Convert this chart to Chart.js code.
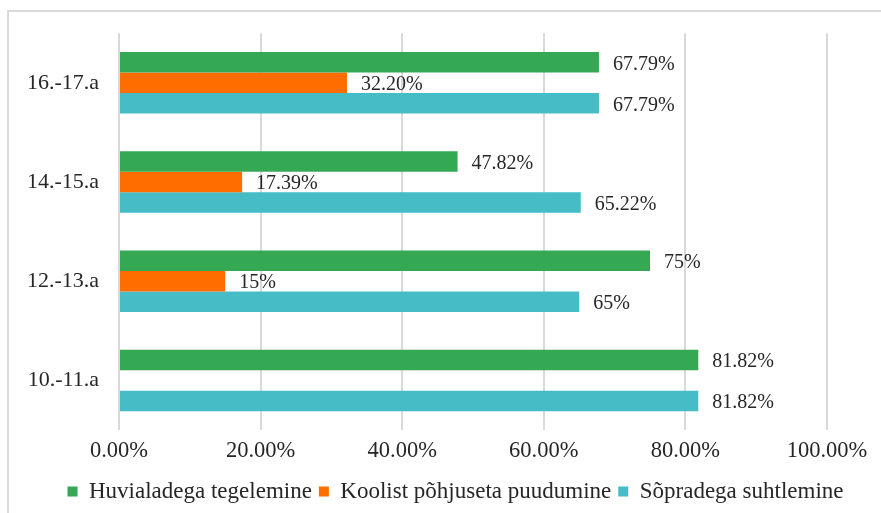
<!DOCTYPE html>
<html>
<head>
<meta charset="utf-8">
<script src="https://cdn.jsdelivr.net/npm/chart.js@4.4.0/dist/chart.umd.min.js"></script>
<style>
  html, body { margin: 0; padding: 0; background: #fff; }
  #box { width: 881px; height: 513px; }
</style>
</head>
<body>
<div id="box"><canvas id="myChart" width="881" height="513"></canvas></div>
<script>
// kategooriad ülevalt alla
const vanused = ['16.-17.a', '14.-15.a', '12.-13.a', '10.-11.a'];

// protsendid iga rühma kohta
const huvialad = [67.79, 47.82, 75, 81.82];
const puudumine = [32.20, 17.39, 15, null];
const sobrad = [67.79, 65.22, 65, 81.82];

const xTicks = [0, 20, 40, 60, 80, 100];

const serif = 'Liberation Serif';

function protsent(v) {
    return Number.isInteger(v) ? v + '%' : v.toFixed(2) + '%';
}

// raam ümber joonise
const raam = {
    id: 'raam',
    beforeDraw(chart) {
        const ctx = chart.ctx;
        ctx.save();
        ctx.fillStyle = '#fff';
        ctx.fillRect(0, 0, chart.width, chart.height);
        ctx.strokeStyle = '#d9d9d9';
        ctx.lineWidth = 2;
        ctx.strokeRect(8, 11, chart.width + 20, chart.height + 20);
        ctx.restore();
    }
};

// legend veidi paremale, nagu originaalis
const legendNihe = {
    id: 'legendNihe',
    afterLayout(chart) {
        chart.legend.left += 42;
        chart.legend.right += 42;
    }
};

// väärtused tulpade otsa
const sildid = {
    id: 'sildid',
    afterDatasetsDraw(chart) {
        const ctx = chart.ctx;
        ctx.save();
        ctx.font = '20px "' + serif + '"';
        ctx.fillStyle = '#262626';
        ctx.textBaseline = 'middle';
        ctx.textAlign = 'left';
        chart.data.datasets.forEach((ds, i) => {
            chart.getDatasetMeta(i).data.forEach((bar, j) => {
                const v = ds.data[j];
                if (v == null || v === 0) return;
                ctx.fillText(protsent(v), bar.x + 14, bar.y + 2);
            });
        });
        ctx.restore();
    }
};

new Chart(document.getElementById('myChart'), {
    type: 'bar',
    data: {
        labels: vanused,
        datasets: [
            { label: 'Huvialadega tegelemine', data: huvialad, backgroundColor: '#34a853' },
            { label: 'Koolist põhjuseta puudumine', data: puudumine, backgroundColor: '#ff6d01' },
            { label: 'Sõpradega suhtlemine', data: sobrad, backgroundColor: '#46bdc6' }
        ]
    },
    options: {
        indexAxis: 'y',
        responsive: false,
        animation: false,
        layout: { padding: { top: 33, right: 54, bottom: 0, left: 0 } },
        datasets: { bar: { categoryPercentage: 0.62, barPercentage: 1 } },
        scales: {
            x: {
                min: 0,
                max: 100,
                afterBuildTicks(scale) { scale.ticks = xTicks.map(v => ({ value: v })); },
                afterFit(scale) { scale.height = 43; },
                grid: { color: '#d9d9d9', lineWidth: 2, drawTicks: false },
                border: { display: false },
                ticks: {
                    padding: 8,
                    color: '#262626',
                    font: { family: serif, size: 22.5 },
                    callback: v => v.toFixed(2) + '%'
                }
            },
            y: {
                afterFit(scale) { scale.width = 119; },
                grid: { display: false, drawTicks: false },
                border: { display: false },
                ticks: {
                    padding: 20,
                    color: '#262626',
                    font: { family: serif, size: 22 }
                }
            }
        },
        plugins: {
            legend: {
                position: 'bottom',
                labels: {
                    boxWidth: 10,
                    boxHeight: 10,
                    padding: 7,
                    color: '#262626',
                    font: { family: serif, size: 23 }
                }
            },
            tooltip: { enabled: false }
        }
    },
    plugins: [raam, legendNihe, sildid]
});
</script>
</body>
</html>
